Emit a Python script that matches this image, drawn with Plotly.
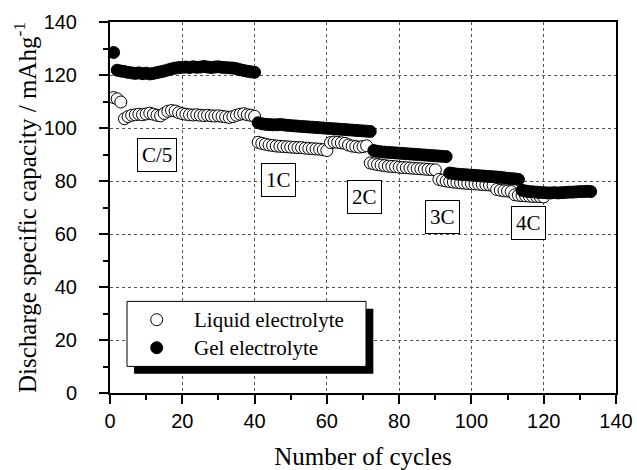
import plotly.graph_objects as go

# ---------------- data ----------------
liquid_capacity = [
    # C/5 (cycles 1-40)
    111.5, 111.0, 109.8, 103.5, 104.3, 104.8, 105.0, 105.2, 105.0, 105.3,
    105.6, 105.2, 104.8, 104.6, 105.5, 106.3, 106.6, 106.4, 105.8, 105.4,
    105.2, 105.0, 104.9, 105.0, 104.8, 104.7, 104.8, 104.6, 104.5, 104.6,
    104.4, 104.2, 104.0, 104.3, 104.8, 105.2, 105.4, 105.0, 104.8, 104.4,
    # 1C (cycles 41-71)
    94.6, 94.2, 93.9, 93.6, 93.4, 93.2, 93.1, 93.0, 92.9, 92.8,
    92.7, 92.6, 92.6, 92.4, 92.3, 92.2, 92.1, 92.0, 91.8, 91.5,
    94.5, 94.7, 94.6, 94.4, 94.2, 93.6, 93.2, 93.0, 92.8, 93.0, 93.3,
    # 2C (cycles 72-90)
    86.8, 86.5, 86.2, 86.0, 85.8, 85.6, 85.5, 85.4, 85.2, 85.1,
    85.0, 84.9, 84.8, 84.7, 84.6, 84.5, 84.4, 84.3, 84.2,
    # 3C (cycles 91-111)
    80.6, 80.3, 80.0, 79.8, 79.6, 79.5, 79.3, 79.2, 79.1, 79.0,
    78.9, 78.8, 78.7, 78.6, 78.5, 78.3, 76.8, 76.5, 76.3, 76.2, 76.0,
    # 4C (cycles 112-120)
    74.8, 74.6, 74.5, 74.4, 74.3, 74.2, 74.2, 74.1, 74.0,
]
liquid_cycles = list(range(1, len(liquid_capacity) + 1))

gel_capacity = [
    # C/5 (cycles 1-40)
    128.5, 121.8, 121.5, 121.3, 121.0, 120.8, 120.6, 120.8, 120.5, 120.7,
    120.4, 120.6, 120.9, 121.2, 121.5, 121.9, 122.3, 122.6, 122.8, 122.9,
    123.0, 122.8, 123.1, 122.9, 123.0, 123.2, 123.0, 122.8, 123.0, 123.1,
    122.9, 122.8, 122.7, 122.6, 122.4, 122.0, 121.7, 121.4, 121.2, 121.0,
    # 1C (cycles 41-72)
    102.0, 101.6, 101.4, 101.3, 101.2, 101.2, 101.3, 101.2, 101.0, 100.9,
    100.8, 100.7, 100.6, 100.5, 100.4, 100.3, 100.2, 100.1, 100.0, 99.9,
    99.8, 99.7, 99.6, 99.5, 99.4, 99.3, 99.2, 99.1, 99.0, 98.9, 98.8, 98.7,
    # 2C (cycles 73-93)
    91.5, 91.2, 91.0, 90.9, 90.8, 90.7, 90.6, 90.5, 90.4, 90.3,
    90.2, 90.1, 90.0, 89.9, 89.8, 89.7, 89.6, 89.5, 89.4, 89.3, 89.2,
    # 3C (cycles 94-113)
    83.0, 82.8, 82.6, 82.5, 82.4, 82.3, 82.2, 82.1, 82.0, 81.9,
    81.8, 81.7, 81.6, 81.5, 81.4, 81.2, 81.0, 80.9, 80.8, 80.6,
    # 4C (cycles 114-133)
    76.5, 76.2, 76.0, 75.9, 75.8, 75.7, 75.6, 75.5, 75.5, 75.6,
    75.5, 75.6, 75.7, 75.8, 75.8, 75.9, 76.0, 76.0, 76.1, 76.0,
]
gel_cycles = list(range(1, len(gel_capacity) + 1))

series_names = ["Liquid electrolyte", "Gel electrolyte"]

rate_labels = ["C/5", "1C", "2C", "3C", "4C"]
rate_label_x = [13.1, 46.5, 70.3, 92.0, 115.9]
rate_label_y = [90.0, 80.5, 74.0, 66.3, 64.0]

x_ticks = [0, 20, 40, 60, 80, 100, 120, 140]
y_ticks = [0, 20, 40, 60, 80, 100, 120, 140]

# ---------------- figure ----------------
SERIF = "Liberation Serif, Times New Roman, serif"
SANS = "Liberation Sans, Arial, Helvetica, sans-serif"

fig = go.Figure()
fig.add_trace(go.Scatter(
    x=liquid_cycles, y=liquid_capacity, mode="markers", name=series_names[0],
    marker=dict(symbol="circle", size=12, color="white",
                line=dict(color="black", width=1)),
    showlegend=False,
))
fig.add_trace(go.Scatter(
    x=gel_cycles, y=gel_capacity, mode="markers", name=series_names[1],
    marker=dict(symbol="circle", size=12, color="black",
                line=dict(color="black", width=1)),
    showlegend=False,
))

for lab, lx, ly in zip(rate_labels, rate_label_x, rate_label_y):
    fig.add_annotation(x=lx, y=ly, xref="x", yref="y", text=lab, showarrow=False,
                       font=dict(family=SERIF, size=21, color="black"),
                       bgcolor="white", bordercolor="black", borderwidth=1,
                       borderpad=4)

# custom legend with drop shadow (paper coordinates)
fig.add_shape(type="rect", xref="paper", yref="paper", x0=0.0474, x1=0.5204,
              y0=0.052, y1=0.2272, fillcolor="black", line=dict(width=0),
              layer="above")
fig.add_shape(type="rect", xref="paper", yref="paper", x0=0.0336, x1=0.5059,
              y0=0.0717, y1=0.2469, fillcolor="white",
              line=dict(color="black", width=1), layer="above")
leg_y = [0.1976, 0.1221]
leg_fill = ["white", "black"]
for name, yy, fc in zip(series_names, leg_y, leg_fill):
    fig.add_shape(type="circle", xref="paper", yref="paper",
                  xsizemode="pixel", ysizemode="pixel",
                  xanchor=0.0923, yanchor=yy, x0=-6, x1=6, y0=-6, y1=6,
                  fillcolor=fc, line=dict(color="black", width=1), layer="above")
    fig.add_annotation(x=0.162, y=yy, xref="paper", yref="paper", text=name,
                       showarrow=False, xanchor="left", yanchor="middle",
                       font=dict(family=SERIF, size=21, color="black"))

axis_common = dict(
    showline=True, linewidth=2, linecolor="black", mirror=True,
    ticks="outside", ticklen=9, tickwidth=2, tickcolor="black",
    showgrid=True, gridcolor="#555555", gridwidth=1, griddash="dot",
    zeroline=False, automargin=False,
    tickfont=dict(family=SANS, size=20, color="black"),
    minor=dict(ticks="outside", ticklen=5, tickwidth=2, tickcolor="black",
               dtick=10, showgrid=False),
)

fig.update_xaxes(range=[0, 140], tickvals=x_ticks, **axis_common,
                 title=dict(text="Number of cycles",
                            font=dict(family=SERIF, size=25, color="black"),
                            standoff=18))
fig.update_yaxes(range=[0, 140], tickvals=y_ticks, **axis_common,
                 ticklabelstandoff=18,
                 title=dict(text="Discharge specific capacity / mAhg<sup>-1</sup>",
                            font=dict(family=SERIF, size=25, color="black"),
                            standoff=0))

fig.update_layout(
    width=637, height=470,
    margin=dict(l=110, r=21, t=22, b=77),
    paper_bgcolor="white", plot_bgcolor="white",
    showlegend=False,
)

fig.write_html("out.html")
